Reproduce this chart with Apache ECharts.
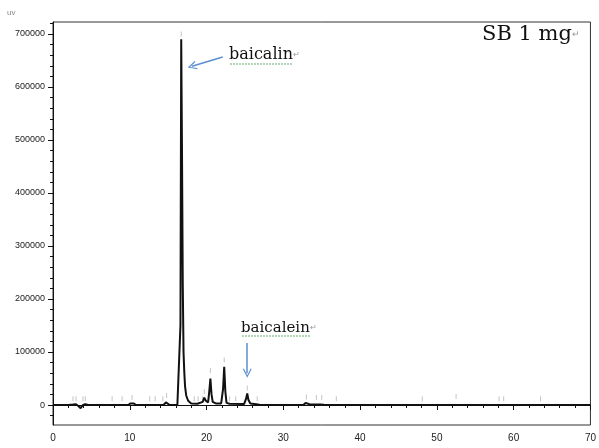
<!DOCTYPE html>
<html>
<head>
<meta charset="utf-8">
<script src="https://cdn.jsdelivr.net/npm/echarts@6/dist/echarts.min.js"></script>
<style>html,body{margin:0;padding:0;background:#fff;}#c{width:599px;height:448px;}</style>
</head>
<body>
<div id="c"></div>
<script>
// Retention time (min) and detector signal (uV)
const time = [0, 2.0, 2.6, 3.0, 3.3, 3.6, 3.9, 4.2, 4.6, 9.8, 10.1, 10.3, 10.5, 10.8, 14.4, 14.7, 14.9, 15.2, 16.2, 16.45,
  16.6, 16.7, 16.8, 16.9, 17.0, 17.1, 17.2, 17.35, 17.6, 18.0, 18.8, 19.5, 19.7, 19.9, 20.2, 20.35, 20.5, 20.65, 20.8, 21.2,
  21.9, 22.15, 22.3, 22.45, 22.6, 23.0, 24.9, 25.15, 25.3, 25.45, 25.7, 26.5, 27.0, 32.6, 32.9, 33.1, 33.4, 34.1, 34.3, 34.5,
  34.8, 35.0, 35.3, 37, 70];
const signal = [0, 0, 800, 1500, -2000, -6000, 0, 1500, 0, 0, 3000, 4500, 3000, 0, 0, 5000, 7000, 0, 0, 3000,
  150000, 690000, 480000, 230000, 100000, 62000, 35000, 18000, 8000, 3000, 2500, 6000, 14000, 8000, 5000, 25000, 50000, 20000, 6000, 3000,
  3000, 30000, 72000, 25000, 4000, 2500, 2000, 12000, 22000, 10000, 3000, 1500, 0, 0, 4000, 5000, 1500, 1000, 3000, 1000,
  1000, 3000, 500, 0, 0];

// peak-label markers (grey)
const markTimes = [2.6, 3.0, 3.9, 4.2, 7.7, 9.0, 10.3, 12.6, 13.3, 14.3, 14.8, 16.7, 18.4, 18.9, 19.5, 19.7, 20.5, 22.3, 23.0, 23.8, 25.3, 26.6, 33.0, 34.3, 35.0, 36.9, 48.1, 52.5, 58.1, 58.7, 63.5];
const markHeights = [12000, 12000, 12000, 12000, 12000, 12000, 14000, 12000, 12000, 12000, 18000, 700000, 12000, 12000, 12000, 25000, 65000, 85000, 12000, 12000, 32000, 12000, 15000, 14000, 14000, 12000, 12000, 16000, 12000, 12000, 12000];

const yMajor = [0, 100000, 200000, 300000, 400000, 500000, 600000, 700000];
const yMinor = [-20000, 20000, 40000, 60000, 80000, 120000, 140000, 160000, 180000, 220000, 240000, 260000, 280000,
  320000, 340000, 360000, 380000, 420000, 440000, 460000, 480000, 520000, 540000, 560000, 580000, 620000, 640000, 660000, 680000, 720000];

const peakNames = ['baicalin', 'baicalein'];
const sampleTitle = 'SB 1 mg';
const yUnit = 'uv';

const lineData = time.map((t, i) => [t, signal[i]]);
const markData = markTimes.map((t, i) => [t, markHeights[i]]);

const chart = echarts.init(document.getElementById('c'), null, {renderer: 'canvas'});
const arrowPath = 'path://M0,10 L5,0 L10,10 L8.6,10 L5,2.8 L1.4,10 Z';
const YMIN = -37700, YMAX = 722600;

chart.setOption({
  animation: false,
  backgroundColor: '#fff',
  grid: {left: 53, right: 6, top: 22, bottom: 23, show: true, borderColor: '#333', borderWidth: 1},
  xAxis: {
    type: 'value', min: 0, max: 70, interval: 10,
    axisLine: {lineStyle: {color: '#111', width: 1}},
    axisTick: {length: 5, lineStyle: {color: '#111'}},
    minorTick: {show: true, splitNumber: 5, length: 3, lineStyle: {color: '#111'}},
    splitLine: {show: false},
    axisLabel: {fontSize: 10, color: '#222', margin: 8, fontFamily: 'Liberation Sans'}
  },
  yAxis: [{
    type: 'value', min: YMIN, max: YMAX,
    axisLine: {show: true, lineStyle: {color: '#111', width: 1}},
    axisTick: {show: true, length: 5, customValues: yMajor, lineStyle: {color: '#111'}},
    axisLabel: {customValues: yMajor, fontSize: 9, color: '#222', margin: 8, fontFamily: 'Liberation Sans',
      formatter: v => String(Math.round(v))},
    splitLine: {show: false}
  }, {
    type: 'value', min: YMIN, max: YMAX, position: 'left',
    axisLine: {show: false},
    axisTick: {show: true, length: 3, customValues: yMinor, lineStyle: {color: '#111'}},
    axisLabel: {show: false},
    splitLine: {show: false}
  }],
  series: [{
    type: 'scatter', name: 'marks', data: markData, symbol: 'rect', symbolSize: [1, 5],
    itemStyle: {color: '#b5b5b5'}, silent: true, z: 1
  }, {
    type: 'line', name: 'signal', data: lineData, showSymbol: false, symbol: 'none',
    lineStyle: {color: '#111', width: 2}, z: 3,
    markLine: {
      silent: true, symbol: ['none', arrowPath], symbolSize: [9, 9],
      lineStyle: {color: '#5b8fd0', width: 1.5, type: 'solid'},
      label: {show: false},
      data: [
        [{coord: [22.1, 656600]}, {coord: [18.1, 639000]}],
        [{coord: [25.3, 117000]}, {coord: [25.3, 60000]}]
      ]
    }
  }],
  graphic: [
    {type: 'text', left: 7, top: 9, style: {text: yUnit, fontSize: 8, fill: '#888', fontFamily: 'Liberation Sans'}},
    {type: 'text', x: 229, y: 55, style: {text: '{a|' + peakNames[0] + '}{r|↵}', verticalAlign: 'middle',
      rich: {a: {fontSize: 16, fontFamily: 'DejaVu Serif', fill: '#111'}, r: {fontSize: 8, fill: '#999'}}}},
    {type: 'line', shape: {x1: 230, y1: 64, x2: 292, y2: 64}, style: {stroke: '#9cc99c', lineWidth: 1.5, lineDash: [2, 1]}},
    {type: 'text', x: 241, y: 328, style: {text: '{a|' + peakNames[1] + '}{r|↵}', verticalAlign: 'middle',
      rich: {a: {fontSize: 15, fontFamily: 'DejaVu Serif', fill: '#111'}, r: {fontSize: 8, fill: '#999'}}}},
    {type: 'line', shape: {x1: 242, y1: 336, x2: 310, y2: 336}, style: {stroke: '#9cc99c', lineWidth: 1.5, lineDash: [2, 1]}},
    {type: 'text', x: 482, y: 35, style: {text: '{a|' + sampleTitle + '}{r|↵}', verticalAlign: 'middle',
      rich: {a: {fontSize: 21, fontFamily: 'DejaVu Serif', fill: '#111'}, r: {fontSize: 9, fill: '#999'}}}}
  ]
});
</script>
</body>
</html>
